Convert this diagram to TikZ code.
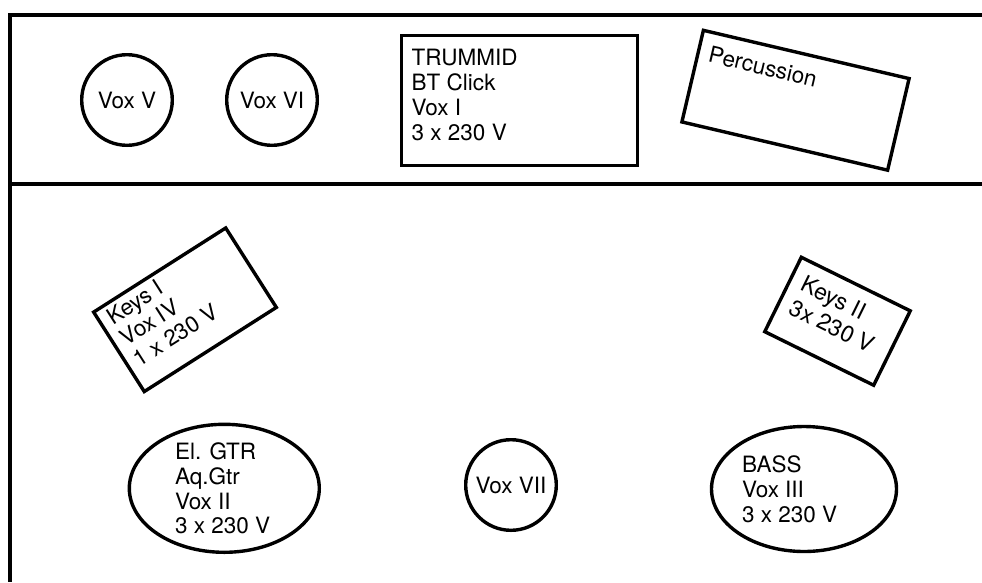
\documentclass[tikz,border=0pt]{standalone}
\usepackage{fontspec}
\setmainfont{TeX Gyre Heros}
\usetikzlibrary{calc,shapes.geometric}
\newcommand\diagfont{\fontsize{22.5}{24.8}\selectfont}
\begin{document}
\begin{tikzpicture}[x=1pt,y=-1pt,
  outline/.style={draw=black, line width=3.4pt},
  boxshape/.style={outline, rectangle, inner sep=0pt},
  roundshape/.style={outline, circle, inner sep=0pt, minimum size=90.6pt, font=\diagfont},
  ovalshape/.style={outline, ellipse, inner sep=0pt},
  txt/.style={inner sep=0pt, outer sep=0pt, align=left, font=\diagfont}]
\useasboundingbox (0,0) rectangle (982,582);
% frame
\coordinate (frameTR) at (982,15);
\coordinate (frameTL) at (10,15);
\coordinate (frameBL) at (10,582);
\coordinate (midL) at (10,184);
\coordinate (midR) at (982,184);
\draw[line width=3.4pt, line join=miter] (frameTR) -- (frameTL) -- (frameBL);
\draw[line width=3.4pt] (midL) -- (midR);
% top zone
\node[roundshape] (voxV) at (127,100) {Vox V};
\node[roundshape] (voxVI) at (272,100) {Vox VI};
\node[boxshape, minimum width=235.6pt, minimum height=129.6pt] (trummid) at (519.5,100.5) {};
\node[txt, anchor=north west] (trummidtxt) at ($(trummid.north west)+(11.7,15.3)$) {TRUMMID\\BT Click\\Vox I\\3 x 230 V};
\node[boxshape, rotate=-13.2, minimum width=211.3pt, minimum height=94.1pt] (perc) at (795.5,100.25) {};
\node[txt, rotate=-13.2, anchor=north west, inner xsep=12.7pt, inner ysep=15pt] (perctxt) at (perc.north west) {Percussion};
% bottom zone
\node[boxshape, rotate=32.5, minimum width=156.6pt, minimum height=94.2pt] (keysI) at (185,309.75) {};
\node[txt, rotate=32.5, anchor=north west, inner xsep=11pt, inner ysep=7pt] (keysItxt) at (keysI.north west) {Keys I\\Vox IV\\1 x 230 V};
\node[boxshape, rotate=-26.2, minimum width=121.4pt, minimum height=82.9pt] (keysII) at (837.5,321.25) {};
\node[txt, rotate=-26.2, anchor=north west, inner xsep=14.5pt, inner ysep=15pt, font=\fontsize{23}{26.2}\selectfont] (keysIItxt) at (keysII.north west) {Keys II\\3x 230 V};
\node[ovalshape, minimum width=190pt, minimum height=128pt] (gtr) at (224.3,488.3) {};
\node[txt, anchor=north west] (gtrtxt) at ($(gtr.center)+(-49.3,-45.6)$) {El. GTR\\Aq.Gtr\\Vox II\\3 x 230 V};
\node[roundshape] (voxVII) at (511,485) {Vox VII};
\node[ovalshape, minimum width=185pt, minimum height=125pt] (bass) at (804,489) {};
\node[txt, anchor=north west] (basstxt) at ($(bass.center)+(-62,-33)$) {BASS\\Vox III\\3 x 230 V};
\end{tikzpicture}
\end{document}
